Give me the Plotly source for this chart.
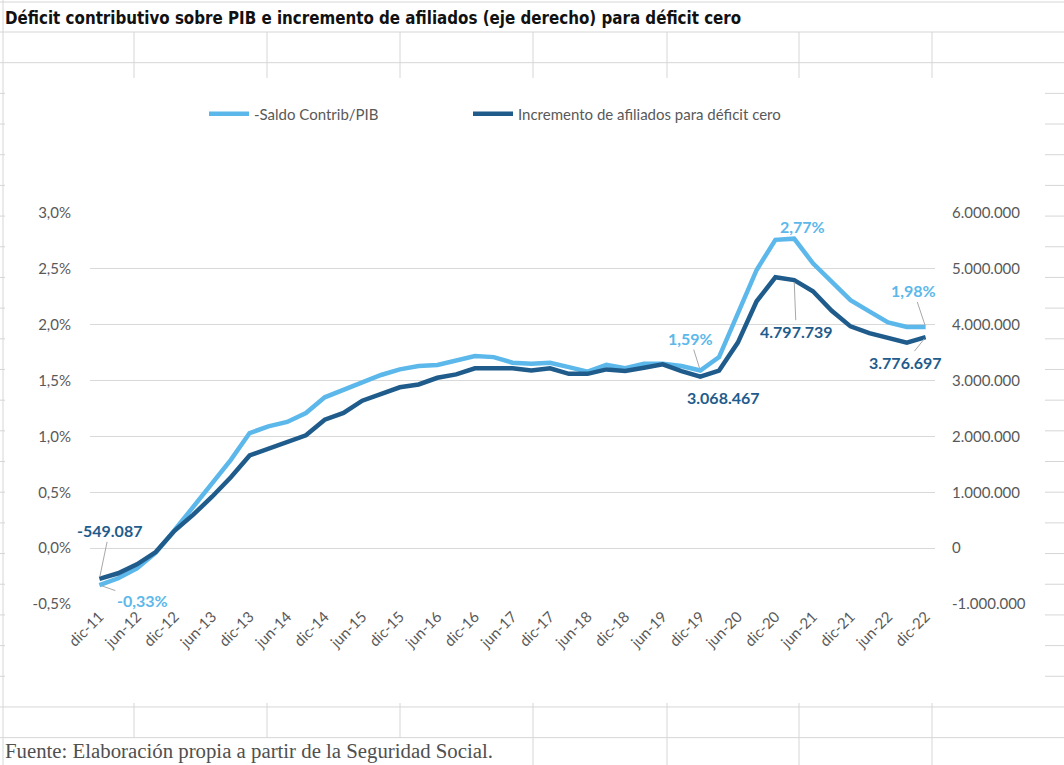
import plotly.graph_objects as go

W, H = 1064, 765

# ---------------- data ----------------
quarters = [
    "dic-11", "mar-12", "jun-12", "sep-12", "dic-12", "mar-13", "jun-13", "sep-13",
    "dic-13", "mar-14", "jun-14", "sep-14", "dic-14", "mar-15", "jun-15", "sep-15",
    "dic-15", "mar-16", "jun-16", "sep-16", "dic-16", "mar-17", "jun-17", "sep-17",
    "dic-17", "mar-18", "jun-18", "sep-18", "dic-18", "mar-19", "jun-19", "sep-19",
    "dic-19", "mar-20", "jun-20", "sep-20", "dic-20", "mar-21", "jun-21", "sep-21",
    "dic-21", "mar-22", "jun-22", "sep-22", "dic-22",
]

saldo_pib = [
    -0.33, -0.27, -0.18, -0.04, 0.16, 0.37, 0.57, 0.79,
    1.03, 1.09, 1.13, 1.21, 1.35, 1.42, 1.49, 1.55,
    1.60, 1.63, 1.64, 1.68, 1.72, 1.71, 1.66, 1.65,
    1.66, 1.62, 1.58, 1.64, 1.61, 1.65, 1.65, 1.63,
    1.59, 1.71, 2.10, 2.49, 2.76, 2.77, 2.55, 2.38,
    2.22, 2.12, 2.02, 1.98, 1.98,
]

afiliados = [
    -549087, -450000, -290000, -70000, 310000, 600000, 920000, 1270000,
    1660000, 1780000, 1910000, 2020000, 2300000, 2420000, 2640000, 2770000,
    2880000, 2930000, 3050000, 3110000, 3220000, 3220000, 3220000, 3180000,
    3220000, 3120000, 3120000, 3200000, 3170000, 3230000, 3290000, 3170000,
    3068467, 3180000, 3680000, 4420000, 4850000, 4797739, 4600000, 4250000,
    3970000, 3850000, 3760000, 3680000, 3776697,
]

x_ticks = ["dic-11", "jun-12", "dic-12", "jun-13", "dic-13", "jun-14", "dic-14",
           "jun-15", "dic-15", "jun-16", "dic-16", "jun-17", "dic-17", "jun-18",
           "dic-18", "jun-19", "dic-19", "jun-20", "dic-20", "jun-21", "dic-21",
           "jun-22", "dic-22"]

left_tickvals = [-0.5, 0.0, 0.5, 1.0, 1.5, 2.0, 2.5, 3.0]
left_ticktext = ["-0,5%", "0,0%", "0,5%", "1,0%", "1,5%", "2,0%", "2,5%", "3,0%"]
right_tickvals = [-1000000, 0, 1000000, 2000000, 3000000, 4000000, 5000000, 6000000]
right_ticktext = ["-1.000.000", "0", "1.000.000", "2.000.000", "3.000.000",
                  "4.000.000", "5.000.000", "6.000.000"]

name_saldo = "-Saldo Contrib/PIB"
name_afil = "Incremento de afiliados para déficit cero"
title_text = "Déficit contributivo sobre PIB e incremento de afiliados (eje derecho) para déficit cero"
source_text = "Fuente: Elaboración propia a partir de la Seguridad Social."

# ---------------- styles ----------------
LIGHT = "#5cb8ea"
DARK = "#1f5c8c"
GRID = "#d9d9d9"
SHEET = "#d6d6d6"
TXT = "#595959"
FONT = "Lato, 'Open Sans', sans-serif"


def px(x):
    return x / W


def py(y):
    return 1 - y / H


fig = go.Figure()
fig.add_trace(go.Scatter(x=quarters, y=saldo_pib, name=name_saldo, mode="lines",
                         line=dict(color=LIGHT, width=4.5), yaxis="y", legend="legend"))
fig.add_trace(go.Scatter(x=quarters, y=afiliados, name=name_afil, mode="lines",
                         line=dict(color=DARK, width=4.5), yaxis="y2", legend="legend2"))

# ---------------- spreadsheet background ----------------
shapes = []
rows = [2] + [32 + 30.68 * k for k in range(24)]
for r in rows:
    shapes.append(dict(type="line", xref="paper", yref="paper", x0=0, x1=1,
                       y0=py(r), y1=py(r), line=dict(color=SHEET, width=1), layer="below"))
shapes.append(dict(type="line", xref="paper", yref="paper", x0=px(3), x1=px(3),
                   y0=0, y1=1, line=dict(color=SHEET, width=1), layer="below"))
for c in [134, 267, 400, 533, 667, 799, 932]:
    top = 32
    bottom = H if c >= 533 else 737.6
    shapes.append(dict(type="line", xref="paper", yref="paper", x0=px(c), x1=px(c),
                       y0=py(bottom), y1=py(top), line=dict(color=SHEET, width=1), layer="below"))
# chart area (white) covering the sheet
shapes.append(dict(type="rect", xref="paper", yref="paper", x0=px(5), x1=px(1045),
                   y0=py(703), y1=py(78), fillcolor="white", line=dict(width=0), layer="below"))

# ---------------- annotations ----------------
ann = []
ann.append(dict(text="<b>" + title_text + "</b>", xref="paper", yref="paper",
                x=px(3), y=py(18), xanchor="left", yanchor="middle", showarrow=False,
                font=dict(family="'Liberation Sans Narrow', 'DejaVu Sans Condensed', 'Liberation Sans', sans-serif",
                          size=16.8, color="#111111")))
ann.append(dict(text=source_text, xref="paper", yref="paper",
                x=px(3), y=py(751), xanchor="left", yanchor="middle", showarrow=False,
                font=dict(family="'Liberation Serif', 'DejaVu Serif', serif", size=20.8, color="#505050")))

lab_font_l = dict(family=FONT, size=16, color=LIGHT, weight="bold")
lab_font_d = dict(family=FONT, size=16, color=DARK, weight="bold")
arrow = dict(showarrow=True, arrowhead=0, arrowwidth=1, arrowcolor="#a8a8a8", standoff=2)


def val_lbl(i, s, yref, font, ax=0, ay=0, arrow_on=True, xs=0, ys=0):
    yv = saldo_pib[i] if yref == "y" else afiliados[i]
    d = dict(text="<b>%s</b>" % s, x=quarters[i], y=yv, xref="x", yref=yref, font=font)
    if arrow_on:
        d.update(arrow)
        d.update(ax=ax, ay=ay)
    else:
        d.update(showarrow=False, xshift=xs, yshift=ys)
    return d


ann.append(val_lbl(0, "-0,33%", "y", lab_font_l, ax=43, ay=15))
ann.append(val_lbl(0, "-549.087", "y2", lab_font_d, ax=10, ay=-48))
ann.append(val_lbl(32, "1,59%", "y", lab_font_l, ax=-10, ay=-32))
ann.append(val_lbl(32, "3.068.467", "y2", lab_font_d, arrow_on=False, xs=23, ys=-21))
ann.append(val_lbl(37, "2,77%", "y", lab_font_l, arrow_on=False, xs=8, ys=12))
ann.append(val_lbl(37, "4.797.739", "y2", lab_font_d, ax=2, ay=51))
ann.append(val_lbl(44, "1,98%", "y", lab_font_l, ax=-12, ay=-36))
ann.append(val_lbl(44, "3.776.697", "y2", lab_font_d, ax=-20, ay=25))

leg_common = dict(orientation="h", yanchor="middle", xanchor="left", y=py(114),
                  itemwidth=40, bgcolor="rgba(0,0,0,0)",
                  font=dict(family=FONT, size=15, color=TXT))

fig.update_layout(
    width=W, height=H,
    margin=dict(l=0, r=0, t=0, b=0, pad=0, autoexpand=False),
    paper_bgcolor="white", plot_bgcolor="rgba(0,0,0,0)",
    font=dict(family=FONT, size=15, color=TXT),
    shapes=shapes, annotations=ann,
    showlegend=True,
    legend=dict(x=px(204), **leg_common),
    legend2=dict(x=px(468), **leg_common),
    xaxis=dict(domain=[px(90), px(935)], type="category", range=[-0.5, 44.5],
               automargin=False,
               tickmode="array", tickvals=x_ticks, ticktext=x_ticks, tickangle=-45,
               showgrid=False, showline=False, zeroline=False, ticks="",
               tickfont=dict(family=FONT, size=15, color=TXT)),
    yaxis=dict(domain=[py(604), py(213)], range=[-0.5, 3.0], tickmode="array",
               automargin=False,
               tickvals=left_tickvals, ticktext=left_ticktext, showgrid=True,
               gridcolor=GRID, gridwidth=1, zeroline=False, showline=False,
               ticks="outside", ticklen=15, tickcolor="rgba(0,0,0,0)",
               tickfont=dict(family=FONT, size=15, color=TXT)),
    yaxis2=dict(overlaying="y", side="right", range=[-1000000, 6000000], tickmode="array",
                automargin=False,
                tickvals=right_tickvals, ticktext=right_ticktext, showgrid=False,
                zeroline=False, showline=False, ticks="outside", ticklen=13,
                tickcolor="rgba(0,0,0,0)",
                tickfont=dict(family=FONT, size=15, color=TXT)),
)

fig.write_html(
    "out.html",
    config={"displayModeBar": False},
    post_script="document.body.style.margin='0';document.body.style.overflow='hidden';"
)
